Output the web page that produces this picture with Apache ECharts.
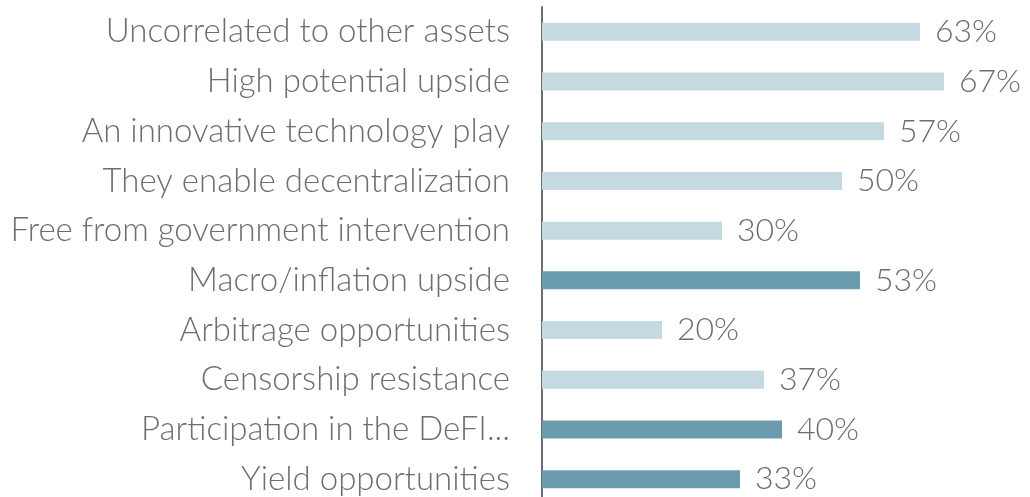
<!DOCTYPE html>
<html>
<head>
<meta charset="utf-8">
<script src="https://cdn.jsdelivr.net/npm/echarts@6/dist/echarts.min.js"></script>
<style>
  html, body { margin: 0; padding: 0; background: #fff; overflow: hidden; }
  #chart { width: 1030px; height: 504px; }
</style>
</head>
<body>
<div id="chart"></div>
<script>
const categories = [
  "Uncorrelated to other assets",
  "High potential upside",
  "An innovative technology play",
  "They enable decentralization",
  "Free from government intervention",
  "Macro/inflation upside",
  "Arbitrage opportunities",
  "Censorship resistance",
  "Participation in the DeFI...",
  "Yield opportunities",
];
const values = [63, 67, 57, 50, 30, 53, 20, 37, 40, 33];
// highlighted rows get the darker colour
const highlighted = [false, false, false, false, false, true, false, false, true, true];

const lightColor = "#c5d9e0";
const darkColor = "#6b9cad";
const textColor = "#6d6e71";
const fontFamily = "Lato, 'Open Sans', sans-serif";

const chart = echarts.init(document.getElementById("chart"));

// chart div is slightly taller than the window so the last band runs off the bottom
const option = {
  animation: false,
  grid: {
    left: 542,
    top: 7,
    right: 8,
    bottom: 0,
    containLabel: false,
  },
  xAxis: {
    type: "value",
    min: 0,
    max: 80,
    show: false,
  },
  yAxis: {
    type: "category",
    data: categories,
    inverse: true,
    axisLine: {
      show: true,
      lineStyle: { color: textColor, width: 2 },
    },
    axisTick: { show: false },
    axisLabel: {
      color: textColor,
      fontFamily: fontFamily,
      fontWeight: 300,
      fontSize: 33,
      margin: 32,
    },
  },
  series: [
    {
      type: "bar",
      barWidth: 18,
      data: values.map((v, i) => ({
        value: v,
        itemStyle: { color: highlighted[i] ? darkColor : lightColor },
      })),
      label: {
        show: true,
        position: "right",
        distance: 15,
        formatter: "{c}%",
        color: textColor,
        fontFamily: fontFamily,
        fontWeight: 300,
        fontSize: 32,
      },
    },
  ],
};

chart.setOption(option);
</script>
</body>
</html>
